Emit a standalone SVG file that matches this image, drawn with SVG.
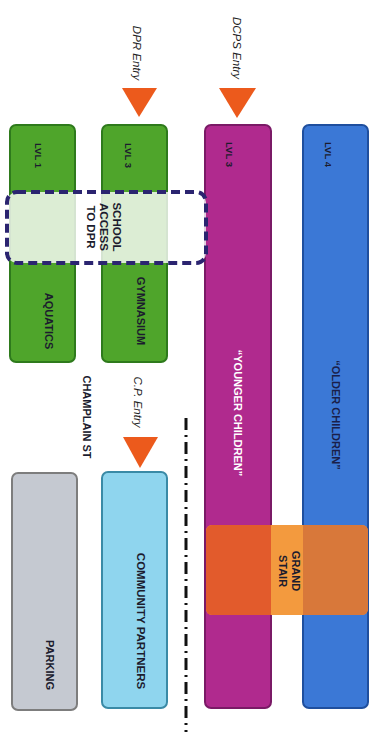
<svg xmlns="http://www.w3.org/2000/svg" width="377" height="740" viewBox="0 0 377 740">
<style>
  text { font-family: "Liberation Sans", Arial, sans-serif; dominant-baseline: central; }
  .lbl { font-weight: bold; font-size: 11px; fill: #1c1c2e; text-anchor: middle; }
  .lvl { font-weight: bold; font-size: 9.5px; fill: #1c1c2e; text-anchor: start; }
  .entry { font-style: italic; font-size: 11.5px; fill: #222; text-anchor: middle; }
  .green { fill: #4fa52b; stroke: #2e7a1c; stroke-width: 2; }
  .tri { fill: #ec5a1c; }
</style>
<defs>
  <clipPath id="stairClip"><rect x="206" y="525" width="162" height="90" rx="6"/></clipPath>
</defs>
<rect width="377" height="740" fill="#ffffff"/>

<g id="lvl1">
  <rect class="green" x="10" y="125" width="65" height="237" rx="6"/>
  <text class="lvl" transform="translate(38,143) rotate(90)">LVL 1</text>
  <text class="lbl" transform="translate(49,321) rotate(90)">AQUATICS</text>
</g>
<g id="lvl3-gym">
  <rect class="green" x="102" y="125" width="65" height="237" rx="6"/>
  <text class="lvl" transform="translate(128,143) rotate(90)">LVL 3</text>
  <text class="lbl" transform="translate(141,311) rotate(90)">GYMNASIUM</text>
</g>
<g id="lvl3-younger">
  <rect x="205" y="125" width="66" height="583" rx="6" fill="#b02a8e" stroke="#7a1a66" stroke-width="2"/>
  <text class="lvl" transform="translate(229,142) rotate(90)" fill="#3a1040">LVL 3</text>
  <text class="lbl" transform="translate(238,413) rotate(90)" style="fill:#ffffff">“YOUNGER CHILDREN”</text>
</g>
<g id="lvl4-older">
  <rect x="303" y="125" width="65" height="583" rx="6" fill="#3b78d6" stroke="#1f4f9e" stroke-width="2"/>
  <text class="lvl" transform="translate(328,142) rotate(90)">LVL 4</text>
  <text class="lbl" transform="translate(336,415) rotate(90)" style="fill:#1a1f4a">“OLDER CHILDREN”</text>
</g>
<g id="grand-stair">
  <g clip-path="url(#stairClip)">
    <rect x="206" y="525" width="162" height="90" fill="#f39a3e"/>
    <rect x="206" y="525" width="65" height="90" fill="#e25b2c"/>
    <rect x="303" y="525" width="65" height="90" fill="#d8783a"/>
  </g>
  <text class="lbl" transform="translate(296,571) rotate(90)">GRAND</text>
  <text class="lbl" transform="translate(283,571) rotate(90)">STAIR</text>
</g>
<g id="school-access">
  <rect x="7" y="192" width="199" height="71" rx="10" fill="#ffffff" fill-opacity="0.8" stroke="#2b2470" stroke-width="4" stroke-dasharray="9 5"/>
  <text class="lbl" style="font-size:11.5px" transform="translate(117,227) rotate(90)">SCHOOL</text>
  <text class="lbl" style="font-size:11.5px" transform="translate(104,227) rotate(90)">ACCESS</text>
  <text class="lbl" style="font-size:11.5px" transform="translate(91,227) rotate(90)">TO DPR</text>
</g>
<g id="community-partners">
  <rect x="102" y="472" width="65" height="236" rx="6" fill="#8fd5ee" stroke="#3a8aa6" stroke-width="2"/>
  <text class="lbl" style="font-size:11.5px" transform="translate(141,621) rotate(90)">COMMUNITY PARTNERS</text>
</g>
<g id="parking">
  <rect x="12" y="473" width="65" height="237" rx="6" fill="#c5c9d1" stroke="#7d7d7d" stroke-width="2"/>
  <text class="lbl" transform="translate(50,665) rotate(90)">PARKING</text>
</g>
<g id="dpr-entry">
  <polygon class="tri" points="122,88 157,88 139,117"/>
  <text class="entry" transform="translate(137,53) rotate(90)">DPR Entry</text>
</g>
<g id="dcps-entry">
  <polygon class="tri" points="219,88 256,88 237,118"/>
  <text class="entry" transform="translate(237,48) rotate(90)">DCPS Entry</text>
</g>
<g id="cp-entry">
  <polygon class="tri" points="123,437 158,437 140,468"/>
  <text class="entry" transform="translate(138,402) rotate(90)">C.P. Entry</text>
</g>
<g id="champlain-st">
  <text class="lbl" transform="translate(87,417) rotate(90)">CHAMPLAIN ST</text>
</g>
<g id="connectors">
  <line x1="186" y1="418" x2="186" y2="732" stroke="#111" stroke-width="3" stroke-dasharray="12 5 2 5"/>
</g>
</svg>
